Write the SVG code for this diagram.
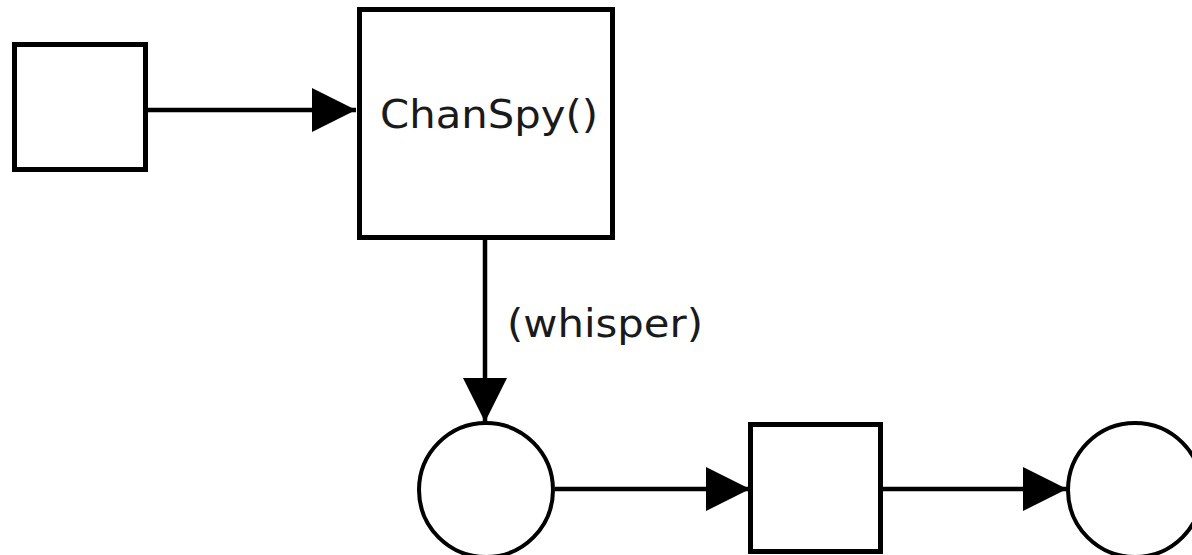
<svg xmlns="http://www.w3.org/2000/svg" width="1192" height="555" viewBox="0 0 1192 555">
<style>
.box{fill:#fff;stroke:#000;stroke-width:5}
.circ{fill:#fff;stroke:#000;stroke-width:4}
.edge{fill:none;stroke:#000;stroke-width:4.5}
.lbl{font-family:"DejaVu Sans",sans-serif;font-size:39px;fill:#1a1a1a}
</style>
<defs>
<marker id="arr" markerUnits="userSpaceOnUse" markerWidth="44" markerHeight="44" viewBox="0 0 42 42" refX="42" refY="21" orient="auto">
<path d="M0,0 L42,21 L0,42 z" fill="#000"/>
</marker>
</defs>
<rect width="1192" height="555" fill="#fff"/>
<g id="connectors">
<line class="edge" x1="148" y1="110" x2="356" y2="110" marker-end="url(#arr)"/>
<line class="edge" x1="485" y1="240" x2="485" y2="422" marker-end="url(#arr)"/>
<line class="edge" x1="555" y1="489" x2="750" y2="489" marker-end="url(#arr)"/>
<line class="edge" x1="883" y1="489" x2="1067" y2="489" marker-end="url(#arr)"/>
<text class="lbl" x="507" y="337" textLength="196" lengthAdjust="spacingAndGlyphs">(whisper)</text>
</g>
<g id="node-start">
<rect class="box" x="14.5" y="44.5" width="131" height="125"/>
</g>
<g id="node-chanspy">
<rect class="box" x="359.5" y="9.5" width="253" height="228"/>
<text class="lbl" x="380" y="128" textLength="218" lengthAdjust="spacingAndGlyphs">ChanSpy()</text>
</g>
<g id="node-circle1">
<circle class="circ" cx="486" cy="490" r="67"/>
</g>
<g id="node-box3">
<rect class="box" x="750.5" y="424.5" width="130" height="127"/>
</g>
<g id="node-circle2">
<circle class="circ" cx="1135" cy="490" r="67"/>
</g>
</svg>
